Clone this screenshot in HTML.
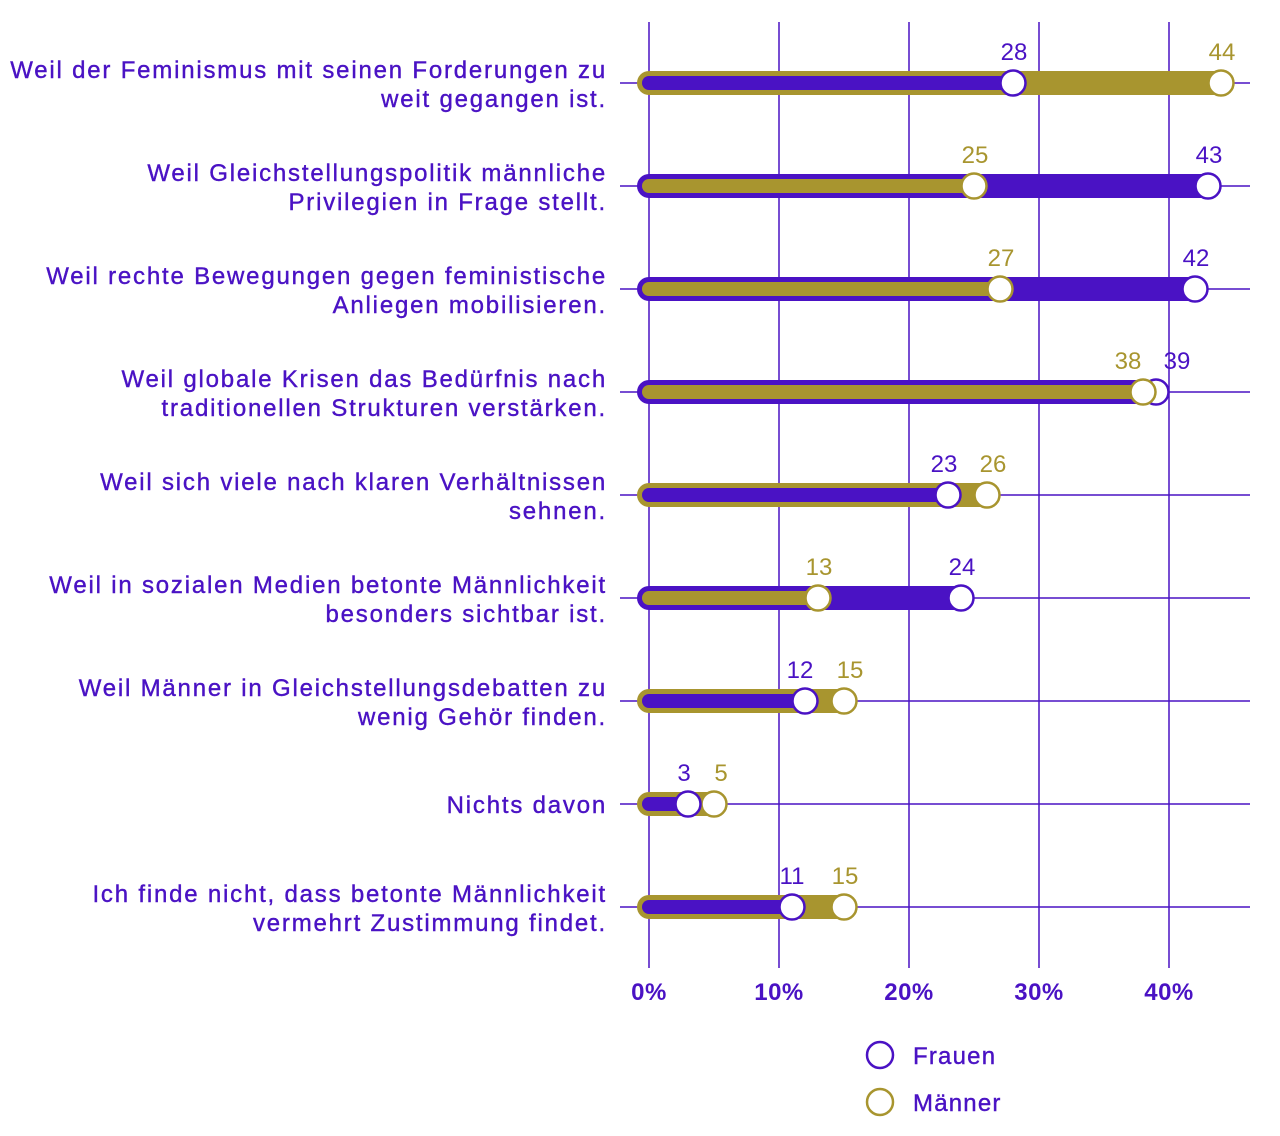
<!DOCTYPE html>
<html><head><meta charset="utf-8"><style>
html,body{margin:0;padding:0;background:#fff;}
svg{display:block;font-family:"Liberation Sans",sans-serif;}
</style></head><body>
<svg width="1280" height="1136" viewBox="0 0 1280 1136" xmlns="http://www.w3.org/2000/svg">
<g stroke="#4a12c4" stroke-width="1.5">
<line x1="649" y1="22" x2="649" y2="968"/><line x1="779" y1="22" x2="779" y2="968"/><line x1="909" y1="22" x2="909" y2="968"/><line x1="1039" y1="22" x2="1039" y2="968"/><line x1="1169" y1="22" x2="1169" y2="968"/>
<line x1="620" y1="83" x2="1250" y2="83"/><line x1="620" y1="186" x2="1250" y2="186"/><line x1="620" y1="289" x2="1250" y2="289"/><line x1="620" y1="392" x2="1250" y2="392"/><line x1="620" y1="495" x2="1250" y2="495"/><line x1="620" y1="598" x2="1250" y2="598"/><line x1="620" y1="701" x2="1250" y2="701"/><line x1="620" y1="804" x2="1250" y2="804"/><line x1="620" y1="907" x2="1250" y2="907"/>
</g>
<g font-size="24" fill="#4a12c4" text-anchor="end" letter-spacing="1.8" stroke="#4a12c4" stroke-width="0.4">
<text x="607" y="78">Weil der Feminismus mit seinen Forderungen zu</text><text x="607" y="107">weit gegangen ist.</text>
<text x="607" y="181">Weil Gleichstellungspolitik männliche</text><text x="607" y="210">Privilegien in Frage stellt.</text>
<text x="607" y="284">Weil rechte Bewegungen gegen feministische</text><text x="607" y="313">Anliegen mobilisieren.</text>
<text x="607" y="387">Weil globale Krisen das Bedürfnis nach</text><text x="607" y="416">traditionellen Strukturen verstärken.</text>
<text x="607" y="490">Weil sich viele nach klaren Verhältnissen</text><text x="607" y="519">sehnen.</text>
<text x="607" y="593">Weil in sozialen Medien betonte Männlichkeit</text><text x="607" y="622">besonders sichtbar ist.</text>
<text x="607" y="696">Weil Männer in Gleichstellungsdebatten zu</text><text x="607" y="725">wenig Gehör finden.</text>
<text x="607" y="813">Nichts davon</text>
<text x="607" y="902">Ich finde nicht, dass betonte Männlichkeit</text><text x="607" y="931">vermehrt Zustimmung findet.</text>
</g>
<g stroke-linecap="round">
<line x1="649" y1="83" x2="1221" y2="83" stroke="#a8952f" stroke-width="24"/><line x1="649" y1="83" x2="1013" y2="83" stroke="#4a12c4" stroke-width="14"/>
<line x1="649" y1="186" x2="1208" y2="186" stroke="#4a12c4" stroke-width="24"/><line x1="649" y1="186" x2="974" y2="186" stroke="#a8952f" stroke-width="14"/>
<line x1="649" y1="289" x2="1195" y2="289" stroke="#4a12c4" stroke-width="24"/><line x1="649" y1="289" x2="1000" y2="289" stroke="#a8952f" stroke-width="14"/>
<line x1="649" y1="392" x2="1156" y2="392" stroke="#4a12c4" stroke-width="24"/><line x1="649" y1="392" x2="1143" y2="392" stroke="#a8952f" stroke-width="14"/>
<line x1="649" y1="495" x2="987" y2="495" stroke="#a8952f" stroke-width="24"/><line x1="649" y1="495" x2="948" y2="495" stroke="#4a12c4" stroke-width="14"/>
<line x1="649" y1="598" x2="961" y2="598" stroke="#4a12c4" stroke-width="24"/><line x1="649" y1="598" x2="818" y2="598" stroke="#a8952f" stroke-width="14"/>
<line x1="649" y1="701" x2="844" y2="701" stroke="#a8952f" stroke-width="24"/><line x1="649" y1="701" x2="805" y2="701" stroke="#4a12c4" stroke-width="14"/>
<line x1="649" y1="804" x2="714" y2="804" stroke="#a8952f" stroke-width="24"/><line x1="649" y1="804" x2="688" y2="804" stroke="#4a12c4" stroke-width="14"/>
<line x1="649" y1="907" x2="844" y2="907" stroke="#a8952f" stroke-width="24"/><line x1="649" y1="907" x2="792" y2="907" stroke="#4a12c4" stroke-width="14"/>
</g>
<g fill="#fff" stroke-width="2.5">
<circle cx="1221" cy="83" r="12.5" stroke="#a8952f"/><circle cx="1013" cy="83" r="12.5" stroke="#4a12c4"/>
<circle cx="1208" cy="186" r="12.5" stroke="#4a12c4"/><circle cx="974" cy="186" r="12.5" stroke="#a8952f"/>
<circle cx="1195" cy="289" r="12.5" stroke="#4a12c4"/><circle cx="1000" cy="289" r="12.5" stroke="#a8952f"/>
<circle cx="1156" cy="392" r="12.5" stroke="#4a12c4"/><circle cx="1143" cy="392" r="12.5" stroke="#a8952f"/>
<circle cx="987" cy="495" r="12.5" stroke="#a8952f"/><circle cx="948" cy="495" r="12.5" stroke="#4a12c4"/>
<circle cx="961" cy="598" r="12.5" stroke="#4a12c4"/><circle cx="818" cy="598" r="12.5" stroke="#a8952f"/>
<circle cx="844" cy="701" r="12.5" stroke="#a8952f"/><circle cx="805" cy="701" r="12.5" stroke="#4a12c4"/>
<circle cx="714" cy="804" r="12.5" stroke="#a8952f"/><circle cx="688" cy="804" r="12.5" stroke="#4a12c4"/>
<circle cx="844" cy="907" r="12.5" stroke="#a8952f"/><circle cx="792" cy="907" r="12.5" stroke="#4a12c4"/>
</g>
<g font-size="24" text-anchor="middle">
<text x="1014" y="60" fill="#4a12c4">28</text><text x="1222" y="60" fill="#a8952f">44</text>
<text x="1209" y="163" fill="#4a12c4">43</text><text x="975" y="163" fill="#a8952f">25</text>
<text x="1196" y="266" fill="#4a12c4">42</text><text x="1001" y="266" fill="#a8952f">27</text>
<text x="1177" y="369" fill="#4a12c4">39</text><text x="1128" y="369" fill="#a8952f">38</text>
<text x="944" y="472" fill="#4a12c4">23</text><text x="993" y="472" fill="#a8952f">26</text>
<text x="962" y="575" fill="#4a12c4">24</text><text x="819" y="575" fill="#a8952f">13</text>
<text x="800" y="678" fill="#4a12c4">12</text><text x="850" y="678" fill="#a8952f">15</text>
<text x="684" y="781" fill="#4a12c4">3</text><text x="721" y="781" fill="#a8952f">5</text>
<text x="792" y="884" fill="#4a12c4">11</text><text x="845" y="884" fill="#a8952f">15</text>
</g>
<g font-size="24" font-weight="bold" fill="#4a12c4" text-anchor="middle" letter-spacing="0.5">
<text x="649" y="1000">0%</text><text x="779" y="1000">10%</text><text x="909" y="1000">20%</text><text x="1039" y="1000">30%</text><text x="1169" y="1000">40%</text>
</g>
<circle cx="880" cy="1055" r="13" fill="#fff" stroke="#4a12c4" stroke-width="2.5"/>
<circle cx="880" cy="1102" r="13" fill="#fff" stroke="#a8952f" stroke-width="2.5"/>
<g font-size="24" fill="#4a12c4" letter-spacing="1.2" stroke="#4a12c4" stroke-width="0.4">
<text x="913" y="1064">Frauen</text>
<text x="913" y="1111">Männer</text>
</g>
</svg>
</body></html>
